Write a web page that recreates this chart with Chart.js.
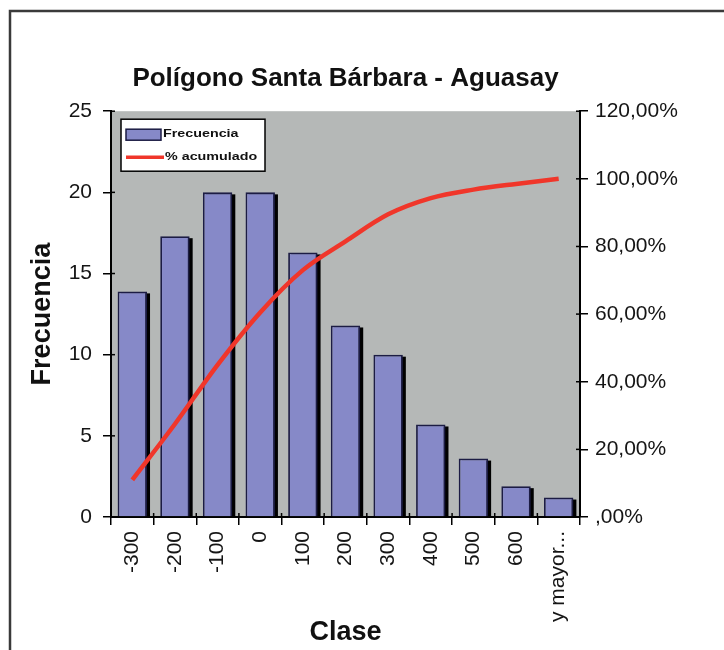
<!DOCTYPE html>
<html>
<head>
<meta charset="utf-8">
<script src="https://cdn.jsdelivr.net/npm/chart.js@4/dist/chart.umd.min.js"></script>
<style>
  body { margin: 0; background: #fff; }
  #wrap { width: 724px; height: 650px; position: relative; }
</style>
</head>
<body>
<div id="wrap"><canvas id="paretoChart"></canvas></div>
<script>
// Datos del histograma
const clases = ['-300', '-200', '-100', '0', '100', '200', '300', '400', '500', '600', 'y mayor...'];
const frecuencia = [13.9, 17.3, 20, 20, 16.3, 11.8, 10, 5.7, 3.6, 1.9, 1.2];
const acumulado = [11, 27.5, 45, 60.5, 73, 81.5, 89.5, 94.3, 96.8, 98.5, 100];
const ticksFrecuencia = [0, 5, 10, 15, 20, 25];
const ticksPorcentaje = [0, 20, 40, 60, 80, 100, 120];

const FONT = '"Liberation Sans", Arial, sans-serif';
const barColor = '#8689C8';
const barBorder = '#1c1c44';
const lineColor = '#F0362A';
const plotBg = '#B5B8B7';

// Fondo, marco exterior y area gris del grafico
const fondoPlugin = {
    id: 'fondo',
    beforeDraw(chart) {
        const { ctx, chartArea: ca } = chart;
        ctx.save();
        ctx.fillStyle = '#fff';
        ctx.fillRect(0, 0, chart.width, chart.height);
        ctx.strokeStyle = '#3a3a3a';
        ctx.lineWidth = 2.5;
        ctx.strokeRect(10, 11, 800, 800);
        ctx.fillStyle = plotBg;
        ctx.fillRect(ca.left, ca.top, ca.right - ca.left, ca.bottom - ca.top);
        ctx.restore();
    }
};

// Sombra negra de las barras (estilo Excel), a partir de los elementos de la barra
const sombraPlugin = {
    id: 'sombra',
    beforeDatasetDraw(chart, args) {
        if (args.meta.type !== 'bar') return;
        const ctx = chart.ctx;
        ctx.save();
        ctx.fillStyle = '#000';
        args.meta.data.forEach(bar => {
            const { x, y, width, base } = bar.getProps(['x', 'y', 'width', 'base'], true);
            ctx.fillRect(x - width / 2 + 3, y + 2, width, base - y - 2);
        });
        ctx.restore();
    }
};

// Marcas de los ejes que cruzan hacia dentro
const marcasPlugin = {
    id: 'marcas',
    afterDraw(chart) {
        const { ctx, scales } = chart;
        ctx.save();
        ctx.strokeStyle = '#000';
        ctx.lineWidth = 1.5;
        ['y', 'y1'].forEach(id => {
            const s = scales[id];
            const x = id === 'y' ? s.right : s.left;
            const dir = id === 'y' ? 1 : -1;
            s.ticks.forEach((t, i) => {
                const py = s.getPixelForTick(i);
                ctx.beginPath();
                ctx.moveTo(x, py);
                ctx.lineTo(x + dir * 4, py);
                ctx.stroke();
            });
        });
        const sx = scales.x;
        for (let i = 0; i <= clases.length; i++) {
            const px = sx.left + (sx.right - sx.left) * i / clases.length;
            ctx.beginPath();
            ctx.moveTo(px, sx.top);
            ctx.lineTo(px, sx.top - 4);
            ctx.stroke();
        }
        ctx.restore();
    }
};

// Leyenda dentro del area del grafico
const leyendaPlugin = {
    id: 'leyenda',
    afterDraw(chart) {
        const { ctx, chartArea: ca } = chart;
        const ds = chart.data.datasets;
        const barDs = ds.find(d => d.type === 'bar');
        const lineDs = ds.find(d => d.type === 'line');
        const x0 = ca.left + 10, y0 = ca.top + 8, w = 144, h = 52;
        ctx.save();
        ctx.fillStyle = '#fff';
        ctx.fillRect(x0, y0, w, h);
        ctx.strokeStyle = '#000';
        ctx.lineWidth = 1.5;
        ctx.strokeRect(x0, y0, w, h);

        ctx.fillStyle = barColor;
        ctx.fillRect(x0 + 5, y0 + 10, 35, 11);
        ctx.strokeStyle = barBorder;
        ctx.strokeRect(x0 + 5, y0 + 10, 35, 11);

        ctx.strokeStyle = lineColor;
        ctx.lineWidth = 3.5;
        ctx.beginPath();
        ctx.moveTo(x0 + 5, y0 + 38);
        ctx.lineTo(x0 + 43, y0 + 38);
        ctx.stroke();

        ctx.fillStyle = '#111';
        ctx.font = 'bold 11px ' + FONT;
        ctx.textBaseline = 'middle';
        [[barDs.label, x0 + 42, y0 + 15], [lineDs.label, x0 + 44, y0 + 38]].forEach(([txt, tx, ty]) => {
            ctx.save();
            ctx.translate(tx, ty);
            ctx.scale(1.3, 1.05);
            ctx.fillText(txt, 0, 0);
            ctx.restore();
        });
        ctx.restore();
    }
};

const ctx = document.getElementById('paretoChart').getContext('2d');
new Chart(ctx, {
    type: 'bar',
    data: {
        labels: clases,
        datasets: [
            {
                type: 'line',
                label: '% acumulado',
                data: acumulado,
                yAxisID: 'y1',
                borderColor: lineColor,
                borderWidth: 4.5,
                pointRadius: 0,
                cubicInterpolationMode: 'monotone',
                order: 0
            },
            {
                type: 'bar',
                label: 'Frecuencia',
                data: frecuencia,
                yAxisID: 'y',
                backgroundColor: barColor,
                borderColor: barBorder,
                borderWidth: 1.8,
                barPercentage: 0.69,
                categoryPercentage: 1,
                order: 1
            }
        ]
    },
    options: {
        responsive: true,
        maintainAspectRatio: false,
        animation: false,
        layout: { padding: { left: 0, right: 0, top: 0, bottom: 0 } },
        plugins: {
            legend: { display: false },
            tooltip: { enabled: false },
            title: {
                display: true,
                text: 'Polígono Santa Bárbara - Aguasay',
                fullSize: false,
                color: '#111',
                font: { family: FONT, size: 26, weight: 'bold' },
                padding: { top: 63, bottom: 17 }
            }
        },
        scales: {
            x: {
                afterFit(s) { s.height = 133; },
                grid: { display: true, drawOnChartArea: false, offset: true, tickLength: 8, color: '#000', lineWidth: 1.5 },
                border: { display: true, color: '#000', width: 2 },
                ticks: {
                    autoSkip: false,
                    maxRotation: 90,
                    minRotation: 90,
                    padding: 6,
                    color: '#151515',
                    font: { family: FONT, size: 21 }
                },
                title: {
                    display: true,
                    text: 'Clase',
                    color: '#111',
                    font: { family: FONT, size: 27, weight: 'bold' },
                    padding: { top: 0, bottom: 1 }
                }
            },
            y: {
                position: 'left',
                min: 0,
                max: 25,
                afterFit(s) { s.width = 111; },
                afterBuildTicks(s) { s.ticks = ticksFrecuencia.map(v => ({ value: v })); },
                grid: { display: true, drawOnChartArea: false, tickLength: 8, color: '#000', lineWidth: 1.5 },
                border: { display: true, color: '#000', width: 2 },
                ticks: {
                    padding: 11,
                    color: '#151515',
                    font: { family: FONT, size: 21 }
                },
                title: {
                    display: true,
                    text: 'Frecuencia',
                    color: '#111',
                    font: { family: FONT, size: 27, weight: 'bold' },
                    padding: { top: 26, bottom: 0 }
                }
            },
            y1: {
                position: 'right',
                min: 0,
                max: 120,
                afterFit(s) { s.width = 144; },
                afterBuildTicks(s) { s.ticks = ticksPorcentaje.map(v => ({ value: v })); },
                grid: { display: true, drawOnChartArea: false, tickLength: 8, color: '#000', lineWidth: 1.5 },
                border: { display: true, color: '#000', width: 2 },
                ticks: {
                    padding: 7,
                    color: '#151515',
                    font: { family: FONT, size: 21 },
                    callback: v => (v === 0 ? '' : v) + ',00%'
                }
            }
        }
    },
    plugins: [fondoPlugin, sombraPlugin, marcasPlugin, leyendaPlugin]
});
</script>
</body>
</html>
